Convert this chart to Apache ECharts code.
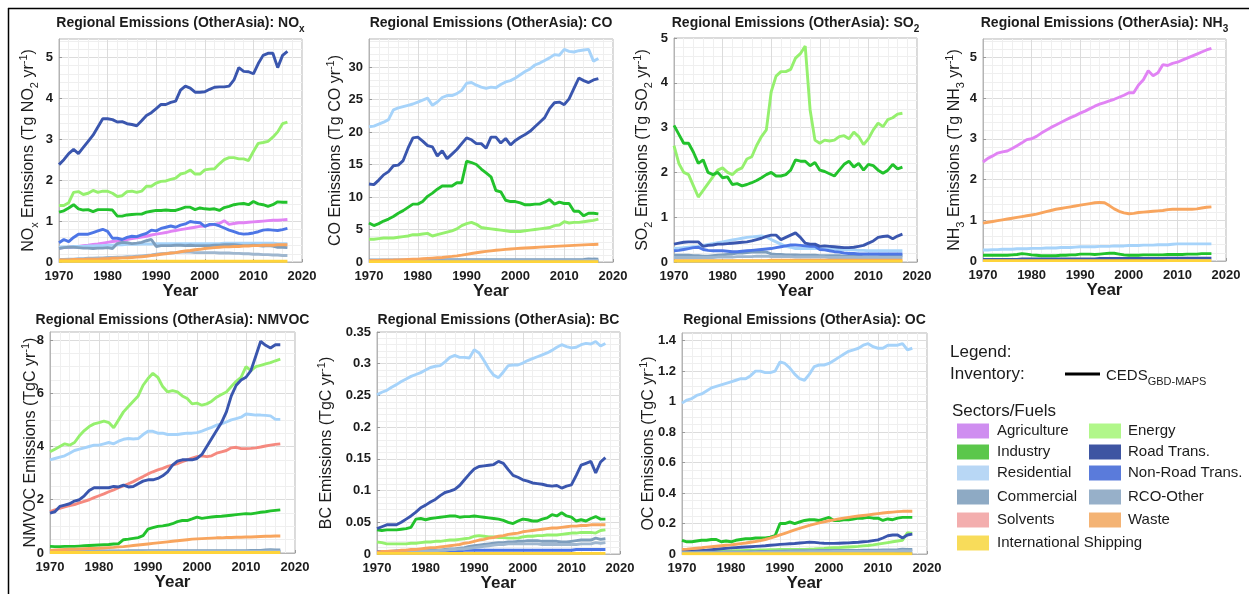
<!DOCTYPE html>
<html>
<head>
<meta charset="utf-8">
<script src="https://cdn.jsdelivr.net/npm/echarts@6/dist/echarts.min.js"></script>
<style>
html, body { margin: 0; padding: 0; background: #ffffff; }
#chart { width: 1249px; height: 594px; }
</style>
</head>
<body>
<div id="chart"></div>
<script>
// Years on the horizontal axis of every panel
const years = [
  1970,1971,1972,1973,1974,1975,1976,1977,1978,1979,
  1980,1981,1982,1983,1984,1985,1986,1987,1988,1989,
  1990,1991,1992,1993,1994,1995,1996,1997,1998,1999,
  2000,2001,2002,2003,2004,2005,2006,2007,2008,2009,
  2010,2011,2012,2013,2014,2015,2016,2017
];
const yearTicks = [1970, 1980, 1990, 2000, 2010, 2020];

// Sector / fuel names
const sectors = ['Agriculture', 'Energy', 'Industry', 'Road Trans.', 'Residential', 'Non-Road Trans.',
  'Commercial', 'RCO-Other', 'Solvents', 'Waste', 'International Shipping'];

// ---------- NOx (Tg NO2 / yr) ----------
const noxAgriculture = [0.34,0.35,0.36,0.37,0.38,0.40,0.41,0.43,0.44,0.46, 0.48,0.50,0.51,0.53,0.55,0.57,0.59,0.61,0.63,0.66, 0.68,0.70,0.72,0.75,0.77,0.79,0.81,0.83,0.85,0.87, 0.88,0.90,0.92,0.94,1.01,0.92,0.94,0.96,0.96,0.97, 0.98,0.99,1.00,1.01,1.02,1.02,1.03,1.04];
const noxEnergy = [1.38,1.38,1.45,1.70,1.72,1.65,1.68,1.75,1.70,1.73, 1.73,1.68,1.60,1.62,1.72,1.73,1.70,1.73,1.85,1.85, 1.93,1.97,1.98,2.02,2.05,2.15,2.18,2.25,2.15,2.15, 2.25,2.27,2.28,2.40,2.50,2.55,2.55,2.52,2.52,2.48, 2.70,2.90,2.92,2.95,3.05,3.18,3.38,3.42];
const noxIndustry = [1.22,1.25,1.32,1.40,1.30,1.27,1.28,1.23,1.28,1.28, 1.28,1.27,1.12,1.12,1.15,1.16,1.17,1.17,1.22,1.24, 1.26,1.26,1.27,1.26,1.26,1.30,1.34,1.34,1.28,1.32, 1.30,1.29,1.30,1.26,1.33,1.36,1.40,1.42,1.43,1.40, 1.48,1.42,1.40,1.36,1.40,1.47,1.46,1.46];
const noxRoad = [2.38,2.50,2.65,2.75,2.65,2.80,2.95,3.10,3.30,3.50, 3.50,3.48,3.42,3.43,3.38,3.36,3.33,3.45,3.58,3.65, 3.75,3.85,3.85,3.90,3.93,4.20,4.30,4.25,4.15,4.15, 4.16,4.22,4.27,4.28,4.28,4.30,4.45,4.75,4.66,4.65, 4.60,4.85,5.05,5.10,5.10,4.75,5.05,5.15];
const noxResidential = [0.36,0.37,0.37,0.38,0.38,0.38,0.39,0.39,0.40,0.40, 0.41,0.41,0.42,0.42,0.43,0.43,0.43,0.44,0.44,0.44, 0.45,0.45,0.45,0.45,0.45,0.45,0.45,0.45,0.45,0.45, 0.45,0.45,0.45,0.45,0.46,0.46,0.46,0.46,0.46,0.46, 0.46,0.46,0.46,0.46,0.46,0.45,0.45,0.45];
const noxNonRoad = [0.47,0.55,0.50,0.60,0.68,0.68,0.68,0.72,0.76,0.80, 0.75,0.58,0.58,0.55,0.60,0.63,0.62,0.66,0.70,0.78, 0.76,0.82,0.85,0.88,0.85,0.90,0.93,0.99,0.97,0.96, 0.87,0.92,0.92,0.88,0.83,0.78,0.74,0.70,0.68,0.69, 0.71,0.74,0.78,0.79,0.78,0.77,0.79,0.82];
const noxCommercial = [0.33,0.35,0.36,0.36,0.35,0.34,0.34,0.33,0.34,0.34, 0.35,0.33,0.45,0.48,0.47,0.45,0.46,0.48,0.52,0.55, 0.38,0.40,0.40,0.40,0.41,0.41,0.40,0.41,0.40,0.40, 0.40,0.40,0.41,0.41,0.42,0.42,0.42,0.41,0.40,0.40, 0.41,0.40,0.39,0.40,0.39,0.36,0.36,0.35];
const noxRCO = [0.06,0.06,0.07,0.07,0.08,0.08,0.09,0.09,0.10,0.10, 0.11,0.11,0.12,0.12,0.13,0.13,0.14,0.15,0.16,0.17, 0.19,0.20,0.21,0.22,0.23,0.24,0.25,0.24,0.23,0.23, 0.23,0.23,0.23,0.22,0.22,0.22,0.21,0.21,0.20,0.20, 0.19,0.19,0.18,0.18,0.17,0.17,0.16,0.16];
const noxWaste = [0.05,0.05,0.05,0.06,0.06,0.06,0.07,0.07,0.07,0.08, 0.08,0.09,0.09,0.10,0.10,0.11,0.12,0.13,0.14,0.16, 0.17,0.19,0.20,0.22,0.23,0.25,0.27,0.28,0.30,0.31, 0.33,0.34,0.35,0.36,0.37,0.37,0.38,0.38,0.39,0.39, 0.40,0.40,0.41,0.41,0.41,0.42,0.42,0.42];
const noxShipping = [0.02,0.02,0.02,0.02,0.02,0.02,0.02,0.02,0.02,0.02, 0.02,0.02,0.02,0.02,0.02,0.02,0.02,0.02,0.02,0.02, 0.02,0.02,0.02,0.02,0.02,0.02,0.02,0.02,0.02,0.02, 0.02,0.02,0.02,0.02,0.02,0.02,0.02,0.02,0.02,0.02, 0.02,0.02,0.02,0.02,0.02,0.02,0.02,0.02];

// ---------- CO (Tg CO / yr) ----------
const coEnergy = [3.5,3.5,3.6,3.7,3.7,3.7,3.8,3.9,4.0,4.2, 4.2,4.3,4.4,4.0,4.2,4.4,4.6,4.8,5.1,5.6, 5.9,6.1,5.8,5.3,5.2,5.1,5.0,4.9,4.8,4.7, 4.7,4.7,4.8,4.9,5.0,5.1,5.2,5.3,5.6,5.7, 6.2,6.0,6.1,6.1,6.2,6.3,6.4,6.6];
const coIndustry = [6.0,5.6,5.9,6.3,6.6,7.0,7.5,7.9,8.4,8.9, 8.9,9.3,10.1,10.6,11.2,11.7,11.7,11.7,12.2,12.2, 15.5,15.3,15.0,14.3,13.7,13.1,11.0,10.8,9.5,9.3, 9.3,9.1,8.8,8.8,8.9,8.9,9.2,9.6,8.9,9.2, 9.0,9.0,7.8,7.8,7.1,7.5,7.5,7.4];
const coRoad = [12.0,11.9,12.6,13.4,13.9,14.8,14.9,15.6,17.5,19.1, 19.2,18.6,17.9,17.7,16.3,17.1,15.9,16.6,17.3,18.2, 19.1,18.8,18.2,18.2,17.5,19.2,19.2,18.3,19.0,18.0, 18.7,19.2,19.6,20.1,20.8,21.5,22.2,23.6,24.5,24.6, 24.2,25.1,26.7,28.3,27.9,27.6,28.0,28.2];
const coResidential = [20.8,20.9,21.2,21.5,21.9,23.4,23.7,23.9,24.1,24.3, 24.6,24.9,25.2,24.1,24.6,25.3,25.6,25.6,25.9,26.4, 27.5,27.6,27.2,26.9,26.7,26.9,26.8,27.3,27.7,27.9, 28.3,28.8,29.3,29.7,30.3,30.6,31.0,31.4,31.9,31.8, 32.7,32.4,32.3,32.5,32.6,32.7,30.9,31.3];
const coNonRoad = [0.10,0.10,0.10,0.10,0.11,0.11,0.11,0.11,0.12,0.12, 0.12,0.12,0.12,0.12,0.13,0.13,0.13,0.13,0.14,0.14, 0.14,0.14,0.15,0.15,0.15,0.15,0.15,0.15,0.15,0.15, 0.14,0.14,0.14,0.14,0.14,0.14,0.13,0.13,0.13,0.13, 0.13,0.13,0.13,0.13,0.13,0.13,0.13,0.13];
const coCommercial = [0.30,0.30,0.31,0.31,0.31,0.32,0.32,0.32,0.33,0.33, 0.33,0.33,0.34,0.34,0.34,0.34,0.35,0.35,0.35,0.35, 0.35,0.35,0.35,0.35,0.35,0.35,0.35,0.35,0.35,0.35, 0.34,0.34,0.34,0.34,0.34,0.34,0.34,0.34,0.34,0.34, 0.34,0.34,0.35,0.36,0.40,0.48,0.45,0.44];
const coRCO = [0.15,0.15,0.15,0.15,0.16,0.16,0.16,0.16,0.17,0.17, 0.17,0.17,0.18,0.18,0.18,0.18,0.19,0.19,0.19,0.20, 0.20,0.20,0.21,0.21,0.21,0.21,0.21,0.21,0.21,0.21, 0.20,0.20,0.20,0.20,0.20,0.20,0.20,0.20,0.20,0.20, 0.20,0.20,0.20,0.21,0.22,0.25,0.24,0.24];
const coWaste = [0.20,0.22,0.24,0.26,0.28,0.30,0.33,0.36,0.39,0.42, 0.45,0.50,0.55,0.60,0.65,0.70,0.78,0.86,0.95,1.05, 1.18,1.30,1.42,1.53,1.63,1.72,1.80,1.87,1.94,2.00, 2.06,2.11,2.16,2.20,2.24,2.28,2.32,2.36,2.40,2.44, 2.48,2.52,2.56,2.60,2.64,2.68,2.70,2.72];
const coShipping = [0.05,0.05,0.05,0.05,0.05,0.05,0.05,0.05,0.05,0.05, 0.05,0.05,0.05,0.05,0.05,0.05,0.05,0.05,0.05,0.05, 0.05,0.05,0.05,0.05,0.05,0.05,0.05,0.05,0.05,0.05, 0.05,0.05,0.05,0.05,0.05,0.05,0.05,0.05,0.05,0.05, 0.05,0.05,0.05,0.05,0.05,0.05,0.05,0.05];

// ---------- SO2 (Tg SO2 / yr) ----------
const so2Energy = [2.60,2.20,2.00,1.95,1.70,1.45,1.60,1.75,1.90,2.05, 2.10,2.00,1.95,2.05,2.10,2.30,2.35,2.60,2.80,2.95, 3.80,4.15,4.25,4.25,4.30,4.55,4.65,4.82,3.40,2.72, 2.65,2.72,2.70,2.72,2.80,2.82,2.75,2.90,2.80,2.62, 2.75,2.95,3.10,3.02,3.18,3.22,3.30,3.32];
const so2Industry = [3.05,2.85,2.65,2.65,2.45,2.20,2.28,2.00,1.95,2.00, 1.88,1.90,1.73,1.75,1.70,1.73,1.77,1.82,1.88,1.95, 2.00,1.92,1.92,1.95,2.05,2.28,2.25,2.25,2.15,2.22, 2.05,2.02,1.97,1.92,2.05,2.18,2.25,2.12,2.20,2.05, 2.18,2.15,2.05,1.98,2.05,2.18,2.08,2.12];
const so2Road = [0.40,0.42,0.44,0.45,0.45,0.45,0.35,0.37,0.38,0.40, 0.40,0.41,0.42,0.43,0.44,0.45,0.47,0.50,0.53,0.57, 0.60,0.60,0.50,0.55,0.60,0.65,0.55,0.42,0.40,0.40, 0.35,0.36,0.35,0.34,0.33,0.32,0.32,0.33,0.35,0.37, 0.42,0.47,0.55,0.57,0.58,0.52,0.58,0.62];
const so2Residential = [0.30,0.31,0.32,0.33,0.34,0.35,0.37,0.39,0.41,0.43, 0.45,0.47,0.49,0.51,0.53,0.55,0.56,0.57,0.58,0.56, 0.50,0.45,0.40,0.35,0.33,0.30,0.30,0.30,0.30,0.30, 0.30,0.29,0.29,0.28,0.28,0.28,0.27,0.27,0.26,0.26, 0.25,0.25,0.25,0.25,0.25,0.25,0.25,0.25];
const so2NonRoad = [0.25,0.26,0.28,0.30,0.32,0.33,0.28,0.26,0.25,0.25, 0.25,0.24,0.23,0.23,0.24,0.25,0.26,0.27,0.28,0.29, 0.30,0.32,0.34,0.36,0.38,0.38,0.37,0.36,0.35,0.35, 0.28,0.27,0.25,0.23,0.22,0.20,0.19,0.19,0.18,0.18, 0.18,0.18,0.18,0.18,0.18,0.18,0.18,0.18];
const so2Commercial = [0.15,0.15,0.15,0.15,0.14,0.14,0.13,0.13,0.14,0.15, 0.16,0.17,0.18,0.20,0.20,0.21,0.22,0.22,0.23,0.22, 0.18,0.17,0.17,0.16,0.16,0.16,0.15,0.15,0.15,0.15, 0.14,0.14,0.14,0.14,0.14,0.13,0.13,0.13,0.13,0.12, 0.12,0.12,0.12,0.13,0.13,0.14,0.14,0.14];
const so2RCO = [0.10,0.10,0.10,0.10,0.10,0.10,0.10,0.10,0.10,0.11, 0.11,0.11,0.11,0.12,0.12,0.12,0.12,0.13,0.13,0.13, 0.12,0.12,0.12,0.12,0.12,0.11,0.11,0.11,0.11,0.11, 0.11,0.11,0.10,0.10,0.10,0.10,0.10,0.10,0.10,0.10, 0.10,0.10,0.10,0.10,0.10,0.10,0.10,0.10];
const so2Waste = [0.03,0.03,0.03,0.03,0.03,0.03,0.03,0.03,0.03,0.03, 0.03,0.03,0.03,0.03,0.03,0.03,0.03,0.03,0.03,0.03, 0.04,0.04,0.04,0.04,0.04,0.04,0.04,0.04,0.04,0.04, 0.04,0.04,0.04,0.04,0.04,0.04,0.04,0.04,0.04,0.04, 0.04,0.04,0.04,0.04,0.04,0.04,0.04,0.04];
const so2Shipping = [0.02,0.02,0.02,0.02,0.02,0.02,0.02,0.02,0.02,0.02, 0.02,0.02,0.02,0.02,0.02,0.02,0.02,0.02,0.02,0.02, 0.02,0.02,0.02,0.02,0.02,0.02,0.02,0.02,0.02,0.02, 0.02,0.02,0.02,0.02,0.02,0.02,0.02,0.02,0.02,0.02, 0.02,0.02,0.02,0.02,0.02,0.02,0.02,0.02];

// ---------- NH3 (Tg NH3 / yr) ----------
const nh3Agriculture = [2.43,2.52,2.58,2.65,2.68,2.70,2.76,2.83,2.90,2.98, 3.00,3.06,3.14,3.21,3.28,3.34,3.40,3.46,3.52,3.57, 3.63,3.68,3.74,3.80,3.85,3.89,3.93,3.97,4.02,4.07, 4.13,4.13,4.32,4.45,4.67,4.55,4.62,4.82,4.80,4.85, 4.88,4.93,4.98,5.03,5.08,5.13,5.18,5.22];
const nh3Industry = [0.14,0.14,0.14,0.14,0.14,0.14,0.15,0.16,0.18,0.17, 0.15,0.14,0.13,0.13,0.13,0.13,0.14,0.14,0.15,0.15, 0.17,0.17,0.17,0.16,0.17,0.18,0.19,0.19,0.17,0.15, 0.14,0.14,0.14,0.15,0.15,0.15,0.15,0.15,0.16,0.16, 0.16,0.16,0.17,0.17,0.17,0.18,0.18,0.18];
const nh3Road = [0.04,0.04,0.04,0.04,0.04,0.04,0.04,0.04,0.05,0.05, 0.05,0.05,0.05,0.05,0.05,0.05,0.05,0.05,0.05,0.05, 0.05,0.05,0.05,0.05,0.06,0.06,0.06,0.06,0.06,0.06, 0.06,0.06,0.06,0.06,0.06,0.06,0.06,0.06,0.07,0.07, 0.07,0.07,0.07,0.07,0.07,0.07,0.07,0.07];
const nh3Residential = [0.27,0.27,0.28,0.28,0.29,0.29,0.29,0.30,0.30,0.30, 0.31,0.31,0.31,0.32,0.32,0.32,0.33,0.33,0.33,0.34, 0.35,0.35,0.35,0.35,0.36,0.36,0.36,0.37,0.37,0.37, 0.38,0.38,0.38,0.39,0.39,0.39,0.40,0.40,0.40,0.41, 0.42,0.42,0.42,0.42,0.42,0.42,0.42,0.42];
const nh3Waste = [0.93,0.95,0.97,0.99,1.01,1.03,1.05,1.07,1.09,1.11, 1.13,1.15,1.18,1.21,1.24,1.27,1.29,1.31,1.33,1.35, 1.37,1.39,1.41,1.43,1.44,1.43,1.36,1.28,1.22,1.18, 1.16,1.17,1.19,1.20,1.21,1.22,1.23,1.24,1.26,1.27, 1.27,1.27,1.27,1.27,1.28,1.30,1.32,1.33];
const nh3Shipping = [0.01,0.01,0.01,0.01,0.01,0.01,0.01,0.01,0.01,0.01, 0.01,0.01,0.01,0.01,0.01,0.01,0.01,0.01,0.01,0.01, 0.01,0.01,0.01,0.01,0.01,0.01,0.01,0.01,0.01,0.01, 0.01,0.01,0.01,0.01,0.01,0.01,0.01,0.01,0.01,0.01, 0.01,0.01,0.01,0.01,0.01,0.01,0.01,0.01];

// ---------- NMVOC (TgC / yr) ----------
const nmvocEnergy = [3.80,3.90,4.00,4.10,4.05,4.15,4.40,4.60,4.75,4.85, 4.90,4.95,4.90,4.70,5.00,5.30,5.50,5.70,5.90,6.30, 6.55,6.75,6.60,6.25,6.05,6.10,6.05,5.90,5.80,5.60, 5.63,5.55,5.60,5.70,5.85,5.95,6.05,6.25,6.45,6.60, 7.00,6.85,7.00,7.05,7.10,7.15,7.22,7.28];
const nmvocIndustry = [0.25,0.24,0.24,0.25,0.25,0.25,0.26,0.27,0.28,0.29, 0.30,0.31,0.32,0.34,0.35,0.50,0.52,0.55,0.58,0.65, 0.90,0.95,1.00,1.02,1.05,1.10,1.18,1.22,1.22,1.28, 1.35,1.30,1.33,1.35,1.37,1.38,1.40,1.42,1.44,1.46, 1.48,1.47,1.50,1.53,1.55,1.58,1.60,1.62];
const nmvocRoad = [1.50,1.55,1.75,1.80,1.85,1.95,2.00,2.15,2.35,2.45, 2.45,2.45,2.45,2.50,2.48,2.55,2.48,2.50,2.60,2.70, 2.75,2.75,2.80,2.90,3.05,3.30,3.45,3.50,3.50,3.50, 3.55,3.70,4.00,4.30,4.60,4.90,5.30,5.90,6.30,6.50, 6.60,6.85,7.40,7.95,7.80,7.70,7.82,7.82];
const nmvocResidential = [3.50,3.55,3.60,3.65,3.75,3.85,3.90,3.95,4.00,4.05, 4.05,4.10,4.15,4.10,4.20,4.27,4.30,4.28,4.30,4.45, 4.57,4.57,4.50,4.50,4.45,4.45,4.45,4.48,4.50,4.50, 4.52,4.58,4.65,4.72,4.80,4.85,4.92,5.00,5.05,5.10, 5.22,5.20,5.18,5.18,5.17,5.15,5.02,5.02];
const nmvocNonRoad = [0.04,0.04,0.04,0.04,0.04,0.04,0.04,0.04,0.04,0.04, 0.04,0.04,0.04,0.04,0.04,0.04,0.04,0.04,0.05,0.05, 0.05,0.05,0.05,0.05,0.05,0.05,0.05,0.05,0.05,0.05, 0.05,0.05,0.05,0.05,0.05,0.05,0.05,0.05,0.05,0.05, 0.05,0.05,0.05,0.05,0.05,0.05,0.05,0.05];
const nmvocCommercial = [0.08,0.08,0.08,0.08,0.08,0.08,0.08,0.08,0.08,0.08, 0.08,0.08,0.08,0.08,0.08,0.08,0.09,0.09,0.09,0.09, 0.09,0.09,0.09,0.09,0.09,0.09,0.09,0.09,0.09,0.09, 0.09,0.09,0.09,0.09,0.09,0.09,0.09,0.09,0.09,0.09, 0.09,0.10,0.10,0.10,0.11,0.12,0.11,0.11];
const nmvocRCO = [0.05,0.05,0.05,0.05,0.05,0.05,0.05,0.05,0.05,0.05, 0.05,0.05,0.05,0.05,0.05,0.05,0.05,0.05,0.05,0.05, 0.06,0.06,0.06,0.06,0.06,0.06,0.06,0.06,0.06,0.06, 0.06,0.06,0.06,0.06,0.06,0.06,0.06,0.06,0.06,0.06, 0.06,0.06,0.06,0.06,0.07,0.08,0.07,0.07];
const nmvocSolvents = [1.55,1.62,1.68,1.73,1.78,1.82,1.88,1.94,2.00,2.08, 2.15,2.22,2.30,2.37,2.45,2.52,2.60,2.68,2.78,2.87, 2.97,3.05,3.12,3.18,3.25,3.30,3.36,3.43,3.50,3.56, 3.62,3.65,3.62,3.65,3.75,3.80,3.85,3.95,3.97,3.92, 3.92,3.93,3.95,3.98,4.02,4.05,4.08,4.10];
const nmvocWaste = [0.10,0.11,0.12,0.13,0.14,0.14,0.15,0.16,0.17,0.17, 0.18,0.19,0.20,0.21,0.23,0.24,0.26,0.28,0.30,0.32, 0.34,0.36,0.38,0.40,0.42,0.44,0.46,0.48,0.50,0.52, 0.53,0.54,0.55,0.56,0.57,0.57,0.58,0.58,0.59,0.59, 0.60,0.60,0.61,0.62,0.63,0.63,0.64,0.64];
const nmvocShipping = [0.02,0.02,0.02,0.02,0.02,0.02,0.02,0.02,0.02,0.02, 0.02,0.02,0.02,0.02,0.02,0.02,0.02,0.02,0.02,0.02, 0.02,0.02,0.02,0.02,0.02,0.02,0.02,0.02,0.02,0.02, 0.02,0.02,0.02,0.02,0.02,0.02,0.02,0.02,0.02,0.02, 0.02,0.02,0.02,0.02,0.02,0.02,0.02,0.02];

// ---------- BC (TgC / yr) ----------
const bcEnergy = [0.019,0.018,0.016,0.016,0.016,0.016,0.016,0.017,0.017,0.018, 0.019,0.019,0.020,0.020,0.021,0.022,0.022,0.023,0.024,0.025, 0.028,0.029,0.028,0.027,0.027,0.026,0.026,0.025,0.025,0.025, 0.027,0.028,0.028,0.029,0.029,0.030,0.030,0.030,0.031,0.032, 0.033,0.033,0.034,0.034,0.034,0.033,0.037,0.038];
const bcIndustry = [0.038,0.037,0.038,0.038,0.038,0.039,0.040,0.042,0.055,0.056, 0.054,0.056,0.057,0.058,0.059,0.060,0.060,0.058,0.059,0.059, 0.060,0.059,0.058,0.057,0.056,0.055,0.053,0.050,0.048,0.052, 0.055,0.054,0.052,0.052,0.055,0.057,0.062,0.060,0.065,0.060, 0.058,0.052,0.054,0.052,0.056,0.059,0.055,0.055];
const bcRoad = [0.040,0.043,0.046,0.046,0.046,0.050,0.055,0.060,0.066,0.073, 0.077,0.082,0.086,0.092,0.097,0.099,0.102,0.108,0.117,0.126, 0.134,0.138,0.139,0.140,0.141,0.146,0.143,0.133,0.124,0.121, 0.117,0.115,0.112,0.111,0.110,0.108,0.107,0.108,0.104,0.107, 0.109,0.124,0.140,0.143,0.146,0.128,0.145,0.152];
const bcResidential = [0.251,0.255,0.258,0.263,0.267,0.272,0.276,0.280,0.283,0.286, 0.290,0.294,0.296,0.297,0.303,0.310,0.313,0.310,0.310,0.309, 0.322,0.317,0.305,0.292,0.282,0.278,0.287,0.297,0.298,0.298, 0.301,0.305,0.308,0.311,0.314,0.317,0.321,0.326,0.330,0.327, 0.325,0.326,0.330,0.332,0.331,0.335,0.328,0.332];
const bcNonRoad = [0.004,0.004,0.004,0.004,0.005,0.005,0.005,0.005,0.005,0.005, 0.005,0.005,0.005,0.005,0.005,0.005,0.005,0.005,0.006,0.006, 0.006,0.006,0.006,0.006,0.006,0.006,0.006,0.006,0.006,0.006, 0.006,0.006,0.006,0.006,0.006,0.006,0.006,0.006,0.006,0.006, 0.006,0.007,0.007,0.007,0.007,0.007,0.007,0.007];
const bcCommercial = [0.003,0.003,0.003,0.003,0.004,0.004,0.004,0.004,0.005,0.005, 0.005,0.006,0.006,0.006,0.007,0.008,0.008,0.009,0.010,0.012, 0.013,0.014,0.015,0.016,0.017,0.018,0.018,0.019,0.019,0.020, 0.020,0.021,0.021,0.021,0.020,0.020,0.020,0.020,0.019,0.019, 0.020,0.021,0.022,0.022,0.022,0.025,0.023,0.024];
const bcRCO = [0.002,0.002,0.002,0.003,0.003,0.003,0.003,0.004,0.004,0.004, 0.005,0.005,0.005,0.006,0.006,0.007,0.007,0.008,0.008,0.009, 0.010,0.011,0.012,0.013,0.014,0.015,0.015,0.016,0.016,0.016, 0.016,0.016,0.016,0.016,0.015,0.015,0.015,0.015,0.015,0.015, 0.015,0.015,0.016,0.016,0.016,0.018,0.017,0.018];
const bcWaste = [0.003,0.004,0.004,0.005,0.005,0.006,0.006,0.007,0.007,0.008, 0.009,0.010,0.010,0.011,0.012,0.013,0.014,0.015,0.017,0.018, 0.020,0.022,0.023,0.025,0.026,0.028,0.029,0.031,0.032,0.033, 0.035,0.036,0.037,0.038,0.039,0.040,0.041,0.041,0.042,0.043, 0.044,0.044,0.045,0.045,0.046,0.046,0.046,0.046];
const bcShipping = [0.001,0.001,0.001,0.001,0.001,0.001,0.001,0.001,0.001,0.001, 0.001,0.001,0.001,0.001,0.001,0.001,0.001,0.001,0.001,0.001, 0.001,0.001,0.001,0.001,0.001,0.001,0.001,0.001,0.001,0.001, 0.001,0.001,0.001,0.001,0.001,0.001,0.001,0.001,0.001,0.001, 0.001,0.001,0.001,0.001,0.001,0.001,0.001,0.001];

// ---------- OC (TgC / yr) ----------
const ocEnergy = [0.015,0.015,0.015,0.016,0.016,0.016,0.017,0.017,0.018,0.019, 0.020,0.021,0.022,0.023,0.024,0.025,0.026,0.027,0.028,0.029, 0.030,0.030,0.030,0.030,0.030,0.030,0.032,0.033,0.035,0.037, 0.040,0.041,0.042,0.044,0.046,0.048,0.050,0.053,0.056,0.060, 0.065,0.070,0.075,0.080,0.085,0.090,0.140,0.135];
const ocIndustry = [0.090,0.080,0.080,0.085,0.090,0.090,0.095,0.095,0.080,0.085, 0.080,0.090,0.095,0.100,0.100,0.105,0.105,0.105,0.110,0.120, 0.200,0.200,0.210,0.200,0.210,0.220,0.225,0.225,0.220,0.230, 0.240,0.220,0.220,0.225,0.225,0.230,0.235,0.235,0.240,0.235, 0.235,0.220,0.230,0.225,0.235,0.240,0.240,0.240];
const ocRoad = [0.015,0.017,0.019,0.021,0.023,0.025,0.028,0.031,0.034,0.037, 0.040,0.042,0.044,0.046,0.048,0.050,0.052,0.054,0.057,0.060, 0.063,0.065,0.067,0.069,0.072,0.075,0.078,0.076,0.073,0.071, 0.070,0.070,0.071,0.072,0.073,0.075,0.077,0.080,0.083,0.088, 0.093,0.105,0.120,0.125,0.125,0.105,0.125,0.130];
const ocResidential = [0.99,1.01,1.02,1.04,1.05,1.07,1.09,1.10,1.11,1.12, 1.13,1.14,1.15,1.15,1.17,1.20,1.20,1.19,1.19,1.20, 1.26,1.25,1.22,1.18,1.15,1.14,1.18,1.23,1.24,1.24, 1.25,1.27,1.29,1.31,1.33,1.34,1.35,1.37,1.38,1.36, 1.35,1.35,1.37,1.37,1.37,1.38,1.34,1.35];
const ocNonRoad = [0.004,0.004,0.004,0.004,0.004,0.004,0.004,0.004,0.004,0.004, 0.004,0.004,0.004,0.004,0.004,0.004,0.004,0.004,0.005,0.005, 0.005,0.005,0.005,0.005,0.005,0.005,0.005,0.005,0.005,0.005, 0.005,0.005,0.005,0.005,0.005,0.005,0.005,0.005,0.005,0.005, 0.005,0.005,0.005,0.005,0.005,0.005,0.005,0.005];
const ocCommercial = [0.010,0.010,0.010,0.011,0.011,0.011,0.012,0.012,0.012,0.013, 0.013,0.013,0.014,0.014,0.015,0.015,0.016,0.016,0.017,0.018, 0.019,0.020,0.020,0.021,0.021,0.022,0.022,0.022,0.023,0.023, 0.023,0.023,0.024,0.024,0.024,0.024,0.024,0.025,0.025,0.025, 0.025,0.026,0.027,0.027,0.028,0.032,0.030,0.030];
const ocRCO = [0.006,0.006,0.006,0.006,0.007,0.007,0.007,0.007,0.008,0.008, 0.008,0.008,0.009,0.009,0.009,0.010,0.010,0.010,0.011,0.011, 0.012,0.012,0.013,0.013,0.014,0.014,0.015,0.015,0.015,0.015, 0.015,0.016,0.016,0.016,0.016,0.016,0.016,0.017,0.017,0.017, 0.017,0.018,0.018,0.018,0.019,0.021,0.020,0.020];
const ocWaste = [0.030,0.032,0.035,0.038,0.041,0.045,0.048,0.051,0.054,0.057, 0.060,0.064,0.068,0.072,0.077,0.082,0.088,0.095,0.104,0.114, 0.125,0.136,0.147,0.158,0.168,0.178,0.188,0.196,0.204,0.211, 0.218,0.224,0.230,0.235,0.240,0.245,0.249,0.253,0.257,0.261, 0.265,0.269,0.272,0.275,0.278,0.280,0.280,0.280];
const ocShipping = [0.002,0.002,0.002,0.002,0.002,0.002,0.002,0.002,0.002,0.002, 0.002,0.002,0.002,0.002,0.002,0.002,0.002,0.002,0.002,0.002, 0.002,0.002,0.002,0.002,0.002,0.002,0.002,0.002,0.002,0.002, 0.002,0.002,0.002,0.002,0.002,0.002,0.002,0.002,0.002,0.002, 0.002,0.002,0.002,0.002,0.002,0.002,0.002,0.002];

// ---------- styling ----------
const FONT = "'Liberation Sans', Arial, Helvetica, sans-serif";
const INK = '#1c1c1c';

const lineColors = {
  'Agriculture': '#e183f4',
  'Energy': '#95f06e',
  'Industry': '#22c22c',
  'Road Trans.': '#3a56ae',
  'Residential': '#a6d3fa',
  'Non-Road Trans.': '#4d76e6',
  'Commercial': '#7e9ebd',
  'RCO-Other': '#9fb7cf',
  'Solvents': '#f5897f',
  'Waste': '#f8a55e',
  'International Shipping': '#ffd43a'
};
const patchColors = {
  'Agriculture': '#cf8ef0',
  'Energy': '#b1f78a',
  'Industry': '#5bc74b',
  'Road Trans.': '#3e55a2',
  'Residential': '#b8d7f5',
  'Non-Road Trans.': '#5a7bdb',
  'Commercial': '#8eaac4',
  'RCO-Other': '#97b0c9',
  'Solvents': '#f3aeae',
  'Waste': '#f4b374',
  'International Shipping': '#f8dc5a'
};

// panel definitions: box = [left, top, width, height] of the plotting area
const panels = [
  { box: [59, 39, 243, 223], ymax: 5.45, step: 1, minor: 5, title: 'Regional Emissions (OtherAsia): NO{s|x}',
    yname: 'NO{sb|x} Emissions (Tg NO{sb|2} yr{sp|-1})', gap: 19,
    lines: [['Agriculture', noxAgriculture], ['Energy', noxEnergy], ['Industry', noxIndustry], ['Residential', noxResidential],
            ['Commercial', noxCommercial], ['RCO-Other', noxRCO], ['Non-Road Trans.', noxNonRoad], ['Road Trans.', noxRoad],
            ['Waste', noxWaste], ['International Shipping', noxShipping]] },
  { box: [369, 39, 244, 223], ymax: 34.3, step: 5, minor: 5, title: 'Regional Emissions (OtherAsia): CO',
    yname: 'CO Emissions (Tg CO yr{sp|-1})', gap: 22,
    lines: [['Energy', coEnergy], ['Industry', coIndustry], ['Residential', coResidential], ['Road Trans.', coRoad],
            ['Non-Road Trans.', coNonRoad], ['Commercial', coCommercial], ['RCO-Other', coRCO],
            ['Waste', coWaste], ['International Shipping', coShipping]] },
  { box: [674, 38, 243, 224], ymax: 5, step: 1, minor: 5, title: 'Regional Emissions (OtherAsia): SO{s|2}',
    yname: 'SO{sb|2} Emissions (Tg SO{sb|2} yr{sp|-1})', gap: 20,
    lines: [['Energy', so2Energy], ['Industry', so2Industry], ['Commercial', so2Commercial], ['RCO-Other', so2RCO],
            ['Residential', so2Residential], ['Non-Road Trans.', so2NonRoad], ['Road Trans.', so2Road],
            ['Waste', so2Waste], ['International Shipping', so2Shipping]] },
  { box: [983, 39, 243, 222], ymax: 5.45, step: 1, minor: 5, title: 'Regional Emissions (OtherAsia): NH{s|3}',
    yname: 'NH{sb|3} Emissions (Tg NH{sb|3} yr{sp|-1})', gap: 17,
    lines: [['Agriculture', nh3Agriculture], ['Industry', nh3Industry], ['Residential', nh3Residential], ['Road Trans.', nh3Road],
            ['Waste', nh3Waste], ['International Shipping', nh3Shipping]] },
  { box: [50, 332, 245, 221], ymax: 8.3, step: 2, minor: 4, title: 'Regional Emissions (OtherAsia): NMVOC',
    yname: 'NMVOC Emissions (TgC yr{sp|-1})', gap: 8,
    lines: [['Energy', nmvocEnergy], ['Industry', nmvocIndustry], ['Residential', nmvocResidential], ['Solvents', nmvocSolvents],
            ['Road Trans.', nmvocRoad], ['Non-Road Trans.', nmvocNonRoad], ['Commercial', nmvocCommercial], ['RCO-Other', nmvocRCO],
            ['Waste', nmvocWaste], ['International Shipping', nmvocShipping]] },
  { box: [377, 332, 243, 222], ymax: 0.35, step: 0.05, minor: 5, title: 'Regional Emissions (OtherAsia): BC',
    yname: 'BC Emissions (TgC yr{sp|-1})', gap: 39,
    lines: [['Energy', bcEnergy], ['Industry', bcIndustry], ['Residential', bcResidential], ['Road Trans.', bcRoad],
            ['Non-Road Trans.', bcNonRoad], ['Commercial', bcCommercial], ['RCO-Other', bcRCO],
            ['Waste', bcWaste], ['International Shipping', bcShipping]] },
  { box: [682, 333, 245, 221], ymax: 1.45, step: 0.2, minor: 4, title: 'Regional Emissions (OtherAsia): OC',
    yname: 'OC Emissions (TgC yr{sp|-1})', gap: 22,
    lines: [['Energy', ocEnergy], ['Industry', ocIndustry], ['Residential', ocResidential], ['Road Trans.', ocRoad],
            ['Non-Road Trans.', ocNonRoad], ['Commercial', ocCommercial], ['RCO-Other', ocRCO],
            ['Waste', ocWaste], ['International Shipping', ocShipping]] }
];

const grids = [], xAxes = [], yAxes = [], series = [], graphics = [];

panels.forEach((p, i) => {
  const [left, top, width, height] = p.box;
  grids.push({ left, top, width, height, show: true, borderColor: '#b4b4b4', borderWidth: 1, containLabel: false });

  xAxes.push({
    type: 'value', gridIndex: i, min: yearTicks[0], max: yearTicks[yearTicks.length - 1], interval: 10,
    name: 'Year', nameLocation: 'middle', nameGap: 21, nameMoveOverlap: false,
    nameTextStyle: { fontFamily: FONT, fontSize: 17, fontWeight: 'bold', color: INK },
    axisLine: { show: true, lineStyle: { color: '#b4b4b4' } },
    axisTick: { show: true, inside: true, length: 3, lineStyle: { color: '#9a9a9a' } },
    axisLabel: { fontFamily: FONT, fontSize: 13, fontWeight: 'bold', color: INK, margin: 8, formatter: v => String(v) },
    splitLine: { show: true, lineStyle: { color: '#dcdcdc', width: 1 } },
    minorTick: { show: false, splitNumber: 5 },
    minorSplitLine: { show: true, lineStyle: { color: '#efefef', width: 1 } }
  });

  const onTick = Math.abs(p.ymax / p.step - Math.round(p.ymax / p.step)) < 1e-6;
  yAxes.push({
    type: 'value', gridIndex: i, min: 0, max: p.ymax, interval: p.step,
    name: p.yname, nameLocation: 'middle', nameGap: p.gap, nameRotate: 90, nameMoveOverlap: false,
    nameTextStyle: {
      fontFamily: FONT, fontSize: 16, color: INK, lineHeight: 22,
      rich: {
        sb: { fontFamily: FONT, fontSize: 11, color: INK, verticalAlign: 'bottom' },
        sp: { fontFamily: FONT, fontSize: 11, color: INK, verticalAlign: 'top' }
      }
    },
    axisLine: { show: true, lineStyle: { color: '#b4b4b4' } },
    axisTick: { show: true, inside: true, length: 3, lineStyle: { color: '#9a9a9a' } },
    axisLabel: { fontFamily: FONT, fontSize: 13, fontWeight: 'bold', color: INK, margin: 6,
      showMaxLabel: onTick, formatter: v => String(+v.toFixed(4)) },
    splitLine: { show: true, lineStyle: { color: '#dcdcdc', width: 1 } },
    minorTick: { show: false, splitNumber: p.minor },
    minorSplitLine: { show: true, lineStyle: { color: '#efefef', width: 1 } }
  });

  p.lines.forEach(([name, values]) => {
    series.push({
      type: 'line', name, xAxisIndex: i, yAxisIndex: i,
      data: years.map((y, k) => [y, values[k]]),
      showSymbol: false, symbol: 'none', silent: true,
      lineStyle: { width: 2.9, color: lineColors[name] },
      itemStyle: { color: lineColors[name] }
    });
  });

  // panel title
  graphics.push({
    type: 'text', x: left + width / 2, y: i < 4 ? 23 : 320, silent: true,
    style: {
      text: '{t|' + p.title.replace('{s|', '}{s|') + (p.title.indexOf('{s|') >= 0 ? '' : '}'),
      align: 'center', verticalAlign: 'middle',
      rich: {
        t: { fontFamily: FONT, fontSize: 14, fontWeight: 'bold', fill: INK, lineHeight: 22 },
        s: { fontFamily: FONT, fontSize: 10, fontWeight: 'bold', fill: INK, verticalAlign: 'bottom' }
      }
    }
  });
});

// figure frame (top and left edges)
graphics.push({ type: 'line', silent: true, shape: { x1: 8, y1: 8.5, x2: 1249, y2: 8.5 }, style: { stroke: '#000', lineWidth: 1.5 } });
graphics.push({ type: 'line', silent: true, shape: { x1: 8.5, y1: 8, x2: 8.5, y2: 594 }, style: { stroke: '#000', lineWidth: 1.5 } });

// legend block
const legendText = (x, y, text, size) => ({
  type: 'text', x, y, silent: true,
  style: { text, fontFamily: FONT, fontSize: size, fill: INK, align: 'left', verticalAlign: 'middle' }
});
graphics.push(legendText(950, 352, 'Legend:', 17));
graphics.push(legendText(950, 374, 'Inventory:', 17));
graphics.push({ type: 'line', silent: true, shape: { x1: 1065, y1: 374, x2: 1100, y2: 374 }, style: { stroke: '#000', lineWidth: 3 } });
graphics.push({
  type: 'text', x: 1106, y: 376, silent: true,
  style: {
    text: '{m|CEDS}{s|GBD-MAPS}', align: 'left', verticalAlign: 'middle',
    rich: {
      m: { fontFamily: FONT, fontSize: 15, fill: INK, lineHeight: 22 },
      s: { fontFamily: FONT, fontSize: 11, fill: INK, verticalAlign: 'bottom' }
    }
  }
});
graphics.push(legendText(952, 411, 'Sectors/Fuels', 17));

const legendCol1 = ['Agriculture', 'Industry', 'Residential', 'Commercial', 'Solvents', 'International Shipping'];
const legendCol2 = ['Energy', 'Road Trans.', 'Non-Road Trans.', 'RCO-Other', 'Waste'];
const legendRows = [431, 452, 473, 497, 520, 543];
legendCol1.forEach((name, r) => {
  graphics.push({ type: 'rect', silent: true, shape: { x: 957, y: legendRows[r] - 7.5, width: 32, height: 15 }, style: { fill: patchColors[name] } });
  graphics.push(legendText(997, legendRows[r], name, 15));
});
legendCol2.forEach((name, r) => {
  graphics.push({ type: 'rect', silent: true, shape: { x: 1089, y: legendRows[r] - 7.5, width: 32, height: 15 }, style: { fill: patchColors[name] } });
  graphics.push(legendText(1128, legendRows[r], name, 15));
});

const chart = echarts.init(document.getElementById('chart'), null, { renderer: 'canvas' });
chart.setOption({
  animation: false,
  backgroundColor: '#ffffff',
  grid: grids,
  xAxis: xAxes,
  yAxis: yAxes,
  series,
  graphic: { elements: graphics }
});
</script>
</body>
</html>
